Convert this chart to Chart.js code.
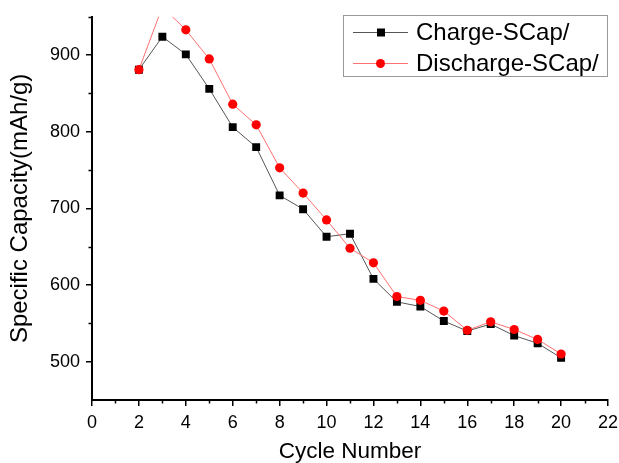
<!DOCTYPE html>
<html>
<head>
<meta charset="utf-8">
<script src="https://cdn.jsdelivr.net/npm/chart.js@4"></script>
<style>
  html, body { margin: 0; padding: 0; background: #fff; }
  #wrap { width: 619px; height: 463px; position: relative; }
</style>
</head>
<body>
<div id="wrap"><canvas id="chart"></canvas></div>
<script>
const cycles = [2, 3, 4, 5, 6, 7, 8, 9, 10, 11, 12, 13, 14, 15, 16, 17, 18, 19, 20];
const chargeCap = [881, 924, 901, 856, 806, 780, 717, 699, 663, 667, 608, 578, 572, 553, 540, 549, 534, 524, 505];
const dischargeCap = [881, 963, 933, 895, 836, 809, 753, 720, 685, 648, 629, 585, 580, 566, 541, 552, 542, 529, 510];

const xTicks = [0, 2, 4, 6, 8, 10, 12, 14, 16, 18, 20, 22];
const xMinor = [1, 3, 5, 7, 9, 11, 13, 15, 17, 19, 21];
const yTicks = [500, 600, 700, 800, 900];
const yMinor = [550, 650, 750, 850, 950];

const FONT = "'Liberation Sans', Arial, sans-serif";

// minor tick marks + in-plot legend box
const extras = {
  id: "extras",
  afterDraw(chart) {
    const ctx = chart.ctx;
    const xs = chart.scales.x, ys = chart.scales.y;
    const area = chart.chartArea;
    ctx.save();
    ctx.strokeStyle = "#000";
    ctx.lineWidth = 1.5;
    ctx.beginPath();
    xMinor.forEach((v) => {
      const px = Math.round(xs.getPixelForValue(v)) + 0.5;
      ctx.moveTo(px, area.bottom);
      ctx.lineTo(px, area.bottom + 3.5);
    });
    yMinor.forEach((v) => {
      const py = Math.round(ys.getPixelForValue(v)) + 0.5;
      ctx.moveTo(area.left, py);
      ctx.lineTo(area.left - 3.5, py);
    });
    ctx.stroke();

    // legend
    const bx = 343.5, by = 15.5, bw = 264, bh = 61;
    ctx.fillStyle = "#fff";
    ctx.fillRect(bx, by, bw, bh);
    ctx.strokeStyle = "#999";
    ctx.lineWidth = 1;
    ctx.strokeRect(bx, by, bw, bh);
    const rows = chart.data.datasets.map((d) => d).sort((a, b) => a.legendIdx - b.legendIdx);
    rows.forEach((d, i) => {
      const cy = 32 + i * 31;
      ctx.strokeStyle = d.borderColor;
      ctx.lineWidth = 1;
      ctx.beginPath();
      ctx.moveTo(353, cy + 0.5);
      ctx.lineTo(408, cy + 0.5);
      ctx.stroke();
      ctx.fillStyle = d.pointBackgroundColor;
      if (d.pointStyle === "rect") {
        ctx.fillRect(377, cy - 3.5, 8, 8);
      } else {
        ctx.beginPath();
        ctx.arc(380.5, cy + 0.5, 4.5, 0, Math.PI * 2);
        ctx.fill();
      }
      ctx.fillStyle = "#000";
      ctx.font = "24px " + FONT;
      ctx.textBaseline = "middle";
      ctx.textAlign = "left";
      ctx.fillText(d.label, 416, cy + 1);
    });
    ctx.restore();
  },
};

new Chart(document.getElementById("chart"), {
  type: "line",
  data: {
    datasets: [
      {
        label: "Charge-SCap/",
        legendIdx: 0,
        data: cycles.map((c, i) => ({ x: c, y: chargeCap[i] })),
        borderColor: "#555",
        borderWidth: 1,
        pointStyle: "rect",
        pointRadius: 5.6,
        pointBackgroundColor: "#000",
        pointBorderWidth: 0,
        order: 2,
      },
      {
        label: "Discharge-SCap/",
        legendIdx: 1,
        data: cycles.map((c, i) => ({ x: c, y: dischargeCap[i] })),
        borderColor: "#ff7070",
        borderWidth: 1,
        pointStyle: "circle",
        pointRadius: 4.6,
        pointBackgroundColor: "#ff0000",
        pointBorderWidth: 0,
        order: 1,
      },
    ],
  },
  options: {
    responsive: true,
    maintainAspectRatio: false,
    animation: false,
    layout: { padding: { top: 15, right: 11, left: 0, bottom: 0 } },
    plugins: { legend: { display: false }, tooltip: { enabled: false } },
    scales: {
      x: {
        type: "linear",
        min: 0,
        max: 22,
        afterBuildTicks: (s) => { s.ticks = xTicks.map((v) => ({ value: v })); },
        afterFit: (s) => { s.height = 63; s.paddingLeft = 0; s.paddingRight = 0; },
        grid: { drawOnChartArea: false, color: "#000", lineWidth: 1.5, tickLength: 6 },
        border: { color: "#000", width: 2 },
        ticks: { color: "#000", font: { family: FONT, size: 18 }, padding: 6, maxRotation: 0 },
        title: { display: true, text: "Cycle Number", color: "#000", font: { family: FONT, size: 22.5 }, padding: { top: 8, bottom: -2 } },
      },
      y: {
        min: 450,
        max: 950,
        afterBuildTicks: (s) => { s.ticks = yTicks.map((v) => ({ value: v })); },
        afterFit: (s) => { s.width = 92; },
        grid: { drawOnChartArea: false, color: "#000", lineWidth: 1.5, tickLength: 6 },
        border: { color: "#000", width: 2 },
        ticks: { color: "#000", font: { family: FONT, size: 18 }, padding: 6 },
        title: { display: true, text: "Specific Capacity(mAh/g)", color: "#000", font: { family: FONT, size: 24 }, padding: { top: 6, bottom: 6 } },
      },
    },
  },
  plugins: [extras],
});
</script>
</body>
</html>
